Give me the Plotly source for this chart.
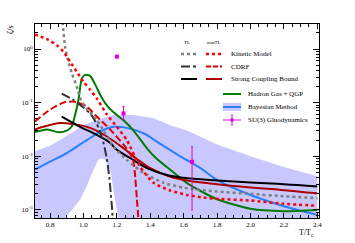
import plotly.graph_objects as go

# ---------------- data ----------------
kin_tl_x = [0.875, 0.89, 0.907, 0.93, 0.96, 0.985, 1.03, 1.08, 1.18, 1.26, 1.36, 1.48, 1.6, 1.8, 2.0, 2.2, 2.4]
kin_tl_y = [3.2, 1.10, 0.63, 0.355, 0.20, 0.112, 0.071, 0.048, 0.0151, 0.0085, 0.0049, 0.0032, 0.0026, 0.0022, 0.0020, 0.0018, 0.00166]

kin_ntl_x = [0.71, 0.79, 0.84, 0.88, 0.92, 0.96, 1.0, 1.04, 1.08, 1.14, 1.2, 1.26, 1.34, 1.42, 1.52, 1.62, 1.72, 1.82, 2.0, 2.2, 2.4]
kin_ntl_y = [1.86, 1.48, 1.18, 0.89, 0.58, 0.38, 0.245, 0.174, 0.12, 0.060, 0.0355, 0.020, 0.0063, 0.0032, 0.0023, 0.0019, 0.0017, 0.0016, 0.0015, 0.0013, 0.0012]

cdrf_tl_x = [0.87, 0.94, 1.04, 1.08, 1.10, 1.12, 1.14, 1.155, 1.165, 1.172, 1.18]
cdrf_tl_y = [0.148, 0.112, 0.063, 0.040, 0.028, 0.0178, 0.0089, 0.0040, 0.00178, 0.0010, 0.0004]

cdrf_ntl_x = [0.71, 0.8, 0.88, 0.94, 1.02, 1.08, 1.16, 1.24, 1.28, 1.30, 1.31, 1.32, 1.33, 1.34]
cdrf_ntl_y = [0.0447, 0.0741, 0.100, 0.105, 0.0851, 0.0550, 0.0316, 0.0166, 0.0112, 0.0079, 0.0040, 0.00158, 0.00063, 0.00032]

scb_tl_x = [0.87, 0.98, 1.08, 1.16, 1.2, 1.3, 1.38, 1.5, 1.6, 1.8, 2.0, 2.2, 2.4]
scb_tl_y = [0.055, 0.0355, 0.0251, 0.0178, 0.0132, 0.0085, 0.0060, 0.00447, 0.00398, 0.00355, 0.00324, 0.00302, 0.00275]

scb_ntl_x = [0.71, 0.76, 0.86, 0.94, 1.04, 1.14, 1.24, 1.32, 1.4, 1.52, 1.62, 1.8, 2.0, 2.2, 2.4]
scb_ntl_y = [0.0316, 0.0355, 0.0417, 0.0398, 0.0339, 0.0234, 0.0141, 0.0089, 0.0060, 0.00417, 0.00355, 0.00302, 0.00263, 0.00234, 0.00204]

hg_x = [0.71, 0.78, 0.85, 0.9, 0.93, 0.95, 0.97, 0.99, 1.01, 1.04, 1.07, 1.1, 1.14, 1.18, 1.24, 1.3, 1.38, 1.44, 1.52, 1.62, 1.8, 2.0, 2.2, 2.4]
hg_y = [0.0282, 0.0316, 0.0282, 0.0302, 0.036, 0.059, 0.112, 0.28, 0.33, 0.316, 0.219, 0.141, 0.089, 0.066, 0.0468, 0.0302, 0.0141, 0.0089, 0.00562, 0.00316, 0.00158, 0.00105, 0.00095, 0.0010]

bay_x = [0.71, 0.8, 0.9, 1.02, 1.12, 1.18, 1.26, 1.36, 1.46, 1.58, 1.7, 1.81, 2.0, 2.2, 2.4]
bay_y = [0.00562, 0.00794, 0.0115, 0.020, 0.0309, 0.0355, 0.0339, 0.0269, 0.0170, 0.010, 0.0060, 0.00347, 0.0019, 0.00117, 0.00081]

band_up_x = [0.71, 0.8, 0.9, 1.0, 1.08, 1.18, 1.3, 1.42, 1.52, 1.62, 1.8, 2.0, 2.2, 2.4]
band_up_y = [0.0126, 0.0158, 0.024, 0.038, 0.0479, 0.0589, 0.0589, 0.0513, 0.038, 0.0302, 0.0166, 0.010, 0.0063, 0.00427]
band_lo_x = [2.4, 2.0, 1.5, 1.3, 1.22, 1.21, 1.2, 1.18, 1.16, 1.13, 1.11, 1.09, 1.06, 1.02, 0.98, 0.93, 0.88, 0.85, 0.8, 0.71]
band_lo_y = [1e-4, 1e-4, 1e-4, 1e-4, 0.0004, 0.00066, 0.001, 0.00234, 0.0056, 0.0085, 0.0093, 0.0087, 0.0056, 0.0028, 0.00155, 0.001, 0.00066, 0.0004, 1e-4, 1e-4]

su3_x = [1.2, 1.24, 1.65]
su3_y = [0.72, 0.063, 0.0079]
su3_err_up = [0.0, 0.022, 0.0071]
su3_err_dn = [0.0, 0.015, 0.0069]

xtick_vals = [0.8, 1.0, 1.2, 1.4, 1.6, 1.8, 2.0, 2.2, 2.4]
ytick_vals = [1e-3, 1e-2, 1e-1, 1.0]
ytick_text = ["10<sup>-3</sup>", "10<sup>-2</sup>", "10<sup>-1</sup>", "10<sup>0</sup>"]

# ---------------- styles ----------------
C_GREY = "#808080"
C_RED = "#ff0000"
C_CDRF_TL = "#333333"
C_CDRF_NTL = "#e00000"
C_BLACK = "#000000"
C_DRED = "#aa0000"
C_GREEN = "#007a00"
C_BLUE = "#2a7fff"
C_BAND = "rgba(200,200,255,1)"
C_MAG = "#dd00dd"
FONT = "Liberation Serif"

fig = go.Figure()

fig.add_trace(go.Scatter(x=band_up_x + band_lo_x, y=band_up_y + band_lo_y, fill="toself",
                         fillcolor=C_BAND, line=dict(width=0), mode="lines", hoverinfo="skip"))
fig.add_trace(go.Scatter(x=bay_x, y=bay_y, mode="lines", line=dict(color=C_BLUE, width=2, shape="spline")))
fig.add_trace(go.Scatter(x=hg_x, y=hg_y, mode="lines", line=dict(color=C_GREEN, width=2, shape="spline", smoothing=0.6)))
fig.add_trace(go.Scatter(x=scb_ntl_x, y=scb_ntl_y, mode="lines", line=dict(color=C_DRED, width=2, shape="spline")))
fig.add_trace(go.Scatter(x=scb_tl_x, y=scb_tl_y, mode="lines", line=dict(color=C_BLACK, width=2, shape="spline")))
fig.add_trace(go.Scatter(x=cdrf_ntl_x, y=cdrf_ntl_y, mode="lines",
                         line=dict(color=C_CDRF_NTL, width=2, dash="7px,3px", shape="spline", smoothing=0.6)))
fig.add_trace(go.Scatter(x=cdrf_tl_x, y=cdrf_tl_y, mode="lines",
                         line=dict(color=C_CDRF_TL, width=2, dash="9px,3px,3px,3px", shape="spline", smoothing=0.6)))
fig.add_trace(go.Scatter(x=kin_tl_x, y=kin_tl_y, mode="lines",
                         line=dict(color=C_GREY, width=2.5, dash="3px,3px", shape="spline", smoothing=0.6)))
fig.add_trace(go.Scatter(x=kin_ntl_x, y=kin_ntl_y, mode="lines",
                         line=dict(color=C_RED, width=2.5, dash="3px,3px", shape="spline", smoothing=0.6)))
fig.add_trace(go.Scatter(x=su3_x, y=su3_y, mode="markers",
                         marker=dict(symbol="square", size=4, color=C_MAG),
                         error_y=dict(type="data", array=su3_err_up, arrayminus=su3_err_dn,
                                      color=C_MAG, thickness=1, width=1)))

# ---------------- axes ----------------
W, H = 355, 243
L_, R_, T_, B_ = 35, 36, 24, 25
fig.update_layout(
    width=W, height=H, margin=dict(l=L_, r=R_, t=T_, b=B_),
    paper_bgcolor="white", plot_bgcolor="white", showlegend=False, hovermode=False,
    font=dict(family=FONT, size=7, color="black"),
)
fig.update_xaxes(range=[0.71, 2.41], tickvals=xtick_vals, ticktext=[f"{v:.1f}" for v in xtick_vals],
                 ticks="inside", ticklen=5, tickwidth=1, tickcolor="black",
                 minor=dict(dtick=0.05, tick0=0.8, ticks="inside", ticklen=3, tickcolor="black"),
                 showline=True, linecolor="black", linewidth=1, mirror="allticks",
                 showgrid=False, zeroline=False, tickfont=dict(size=7))
minor_y = [m * 10.0 ** e for e in (-4, -3, -2, -1, 0) for m in (2, 3, 4, 5, 6, 7, 8, 9)]
fig.update_yaxes(type="log", range=[-3.15, 0.466], tickvals=ytick_vals, ticktext=ytick_text,
                 ticks="inside", ticklen=6, tickwidth=1, tickcolor="black",
                 minor=dict(tickvals=minor_y, ticks="inside", ticklen=3, tickcolor="black"),
                 showline=True, linecolor="black", linewidth=1, mirror="allticks",
                 showgrid=False, zeroline=False, tickfont=dict(size=7))

# ---------------- legend (drawn in paper coordinates) ----------------
PW, PH = W - L_ - R_, H - T_ - B_


def px(x):
    return (x - L_) / PW


def py(y):
    return (H - B_ - y) / PH


shapes = []
annos = []


def seg(x0, x1, y, color, width, dash="solid"):
    shapes.append(dict(type="line", xref="paper", yref="paper", x0=px(x0), x1=px(x1), y0=py(y), y1=py(y),
                       line=dict(color=color, width=width, dash=dash)))


def text(x, y, s, anchor="left", size=7):
    annos.append(dict(xref="paper", yref="paper", x=px(x), y=py(y), text=s, showarrow=False,
                      xanchor=anchor, yanchor="middle", font=dict(family=FONT, size=size, color="black")))


text(187, 42, "TL", "center", 5)
text(214, 42, "nonTL", "center", 5)
seg(181, 197, 54, C_GREY, 2.5, "3px,3px")
seg(206, 222, 54, C_RED, 2.5, "3px,3px")
text(229, 54, "Kinetic Model")
seg(181, 197, 66.5, C_CDRF_TL, 2, "9px,3px,3px,3px")
seg(206, 222, 66.5, C_CDRF_NTL, 2, "5px,2px")
text(229, 66.5, "CDRF")
seg(181, 197, 79, C_BLACK, 2)
seg(206, 222, 79, C_DRED, 2)
text(229, 79, "Strong Coupling Bound")
seg(223, 241, 94, C_GREEN, 2)
text(246, 94, "Hadron Gas + QGP")
shapes.append(dict(type="rect", xref="paper", yref="paper", x0=px(223), x1=px(241), y0=py(111), y1=py(103),
                   fillcolor=C_BAND, line=dict(width=0)))
seg(223, 241, 107, C_BLUE, 2)
text(246, 107, "Bayesian Method")
seg(223, 241, 120, C_MAG, 1)
shapes.append(dict(type="line", xref="paper", yref="paper", x0=px(232), x1=px(232), y0=py(114), y1=py(126),
                   line=dict(color=C_MAG, width=1)))
shapes.append(dict(type="rect", xref="paper", yref="paper", x0=px(230.5), x1=px(233.5), y0=py(121.5), y1=py(118.5),
                   fillcolor=C_MAG, line=dict(width=0)))
text(246, 120, "SU(3) Gluodynamics")

# axis titles
annos.append(dict(xref="paper", yref="paper", x=px(316), y=py(233), text="T/T<sub>c</sub>", showarrow=False,
                  xanchor="right", yanchor="middle", font=dict(family=FONT, size=8)))
annos.append(dict(xref="paper", yref="paper", x=px(10), y=py(30), text="ζ/s", showarrow=False, textangle=-90,
                  xanchor="center", yanchor="middle", font=dict(family=FONT, size=8)))

fig.update_layout(shapes=shapes, annotations=annos)
fig.write_html("out.html", config={"displayModeBar": False, "staticPlot": True},
               post_script="document.body.style.margin='0';document.body.style.padding='0';")
